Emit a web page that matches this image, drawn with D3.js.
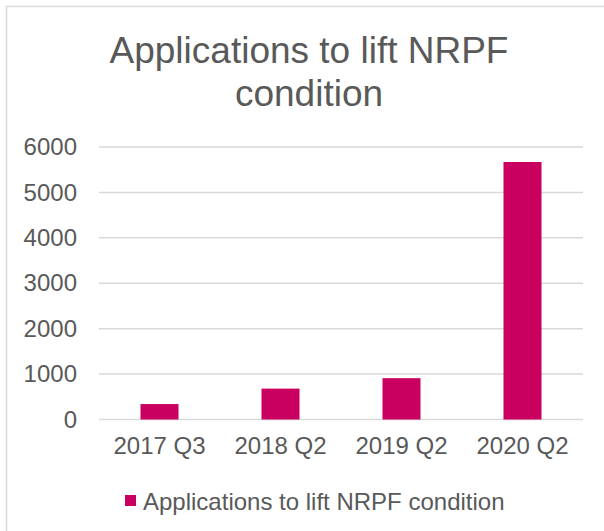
<!DOCTYPE html>
<html>
<head>
<meta charset="utf-8">
<script src="https://cdn.jsdelivr.net/npm/d3@7"></script>
<style>
  body { margin: 0; background: #fff; }
  text { font-family: "Liberation Sans", Arial, sans-serif; fill: #595959; }
</style>
</head>
<body>
<svg id="chart" width="604" height="531"></svg>
<script>
// chart data
var categories = ['2017 Q3', '2018 Q2', '2019 Q2', '2020 Q2']
var applications = [340, 680, 910, 5670]
var yTicks = [0, 1000, 2000, 3000, 4000, 5000, 6000]
var titleLines = ['Applications to lift NRPF', 'condition']
var seriesName = 'Applications to lift NRPF condition'

var svg = d3.select('#chart')
var barColor = '#C9005F'
var gridColor = '#D9D9D9'

// outer chart border (right and bottom edges fall outside the picture)
svg.append('rect')
  .attr('x', 6.5).attr('y', 6.5)
  .attr('width', 620).attr('height', 540)
  .attr('fill', 'none').attr('stroke', gridColor).attr('stroke-width', 1.5)

// title
svg.append('text')
  .attr('x', 309).attr('y', 63)
  .attr('text-anchor', 'middle')
  .style('font-size', '37px')
  .selectAll('tspan')
  .data(titleLines)
  .enter().append('tspan')
  .attr('x', 309)
  .attr('dy', function (d, i) { return i ? 43 : 0 })
  .text(function (d) { return d })

var x = d3.scaleBand().domain(categories).range([99, 583]).paddingInner(0.686).paddingOuter(0.343)
var y = d3.scaleLinear().domain([0, 6000]).range([419.5, 147])

// gridlines
svg.append('g')
  .selectAll('line')
  .data(yTicks)
  .enter().append('line')
  .attr('x1', 99).attr('x2', 583)
  .attr('y1', function (d) { return y(d) })
  .attr('y2', function (d) { return y(d) })
  .attr('stroke', gridColor).attr('stroke-width', 1.5)

// y axis labels
var yAxis = svg.append('g')
  .attr('transform', 'translate(77,0)')
  .call(d3.axisLeft(y).tickValues(yTicks).tickSize(0).tickPadding(0).tickFormat(d3.format('d')))
yAxis.select('.domain').remove()
yAxis.selectAll('text').style('font-size', '24px').attr('fill', '#595959').style('font-family', null)

// bars
svg.append('g')
  .selectAll('rect')
  .data(applications)
  .enter().append('rect')
  .attr('x', function (d, i) { return x(categories[i]) })
  .attr('width', x.bandwidth())
  .attr('y', function (d) { return y(d) })
  .attr('height', function (d) { return y(0) - y(d) })
  .attr('fill', barColor)

// x axis labels
var xAxis = svg.append('g')
  .attr('transform', 'translate(0,437)')
  .call(d3.axisBottom(x).tickSize(0).tickPadding(0))
xAxis.select('.domain').remove()
xAxis.selectAll('text').style('font-size', '24px').attr('fill', '#595959').style('font-family', null)

// legend
svg.append('rect')
  .attr('x', 125).attr('y', 495)
  .attr('width', 11).attr('height', 11)
  .attr('fill', barColor)
svg.append('text')
  .attr('x', 143).attr('y', 510)
  .style('font-size', '24px')
  .text(seriesName)
</script>
</body>
</html>
